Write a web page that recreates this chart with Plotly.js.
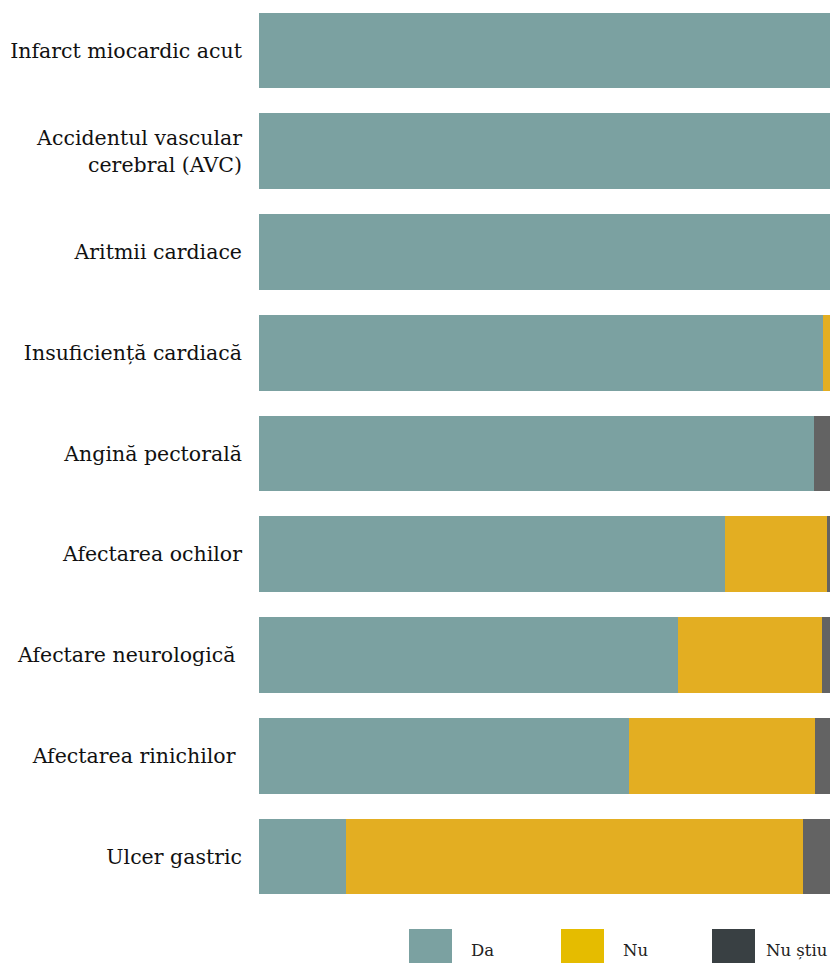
<!DOCTYPE html>
<html>
<head>
<meta charset="utf-8">
<script src="https://cdn.plot.ly/plotly-3.0.1.min.js"></script>
<style>html,body{margin:0;padding:0;background:#fff;}#chart{width:830px;height:963px;}</style>
</head>
<body>
<div id="chart"></div>
<script>
const categories = [
  "Infarct miocardic acut",
  "Accidentul vascular<br>cerebral (AVC)",
  "Aritmii cardiace",
  "Insuficiență cardiacă",
  "Angină pectorală",
  "Afectarea ochilor",
  "Afectare neurologică ",
  "Afectarea rinichilor ",
  "Ulcer gastric"
];
const seriesNames = ["Da", "Nu", "Nu știu"];
const da     = [100, 100, 100, 98.8, 97.2, 81.6, 73.4, 64.8, 15.2];
const nu     = [0, 0, 0, 1.2, 0, 17.9, 25.2, 32.6, 80.1];
const nuStiu = [0, 0, 0, 0, 2.8, 0.5, 1.4, 2.6, 4.7];
const barColors = ["#7BA1A1", "#E3AE22", "#636363"];
const legendColors = ["#7BA1A1", "#E5BC00", "#394043"];

const values = [da, nu, nuStiu];
const traces = values.map((v, i) => ({
  type: "bar",
  orientation: "h",
  y: categories,
  x: v,
  name: seriesNames[i],
  marker: { color: barColors[i] },
  showlegend: false,
  hoverinfo: "x+name"
}));

// legend geometry (pixels)
const plotL = 259, plotW = 571, plotH = 907;
const px = p => (p - plotL) / plotW;
const py = p => (plotH - p) / plotH;
const boxX = [409, 561, 712];
const textX = [469, 621, 764];
const shapes = [], annotations = [];
seriesNames.forEach((n, i) => {
  shapes.push({
    type: "rect", xref: "paper", yref: "paper",
    x0: px(boxX[i]), x1: px(boxX[i] + 43), y0: py(929), y1: py(965),
    fillcolor: legendColors[i], line: { width: 0 }
  });
  annotations.push({
    xref: "paper", yref: "paper", x: px(textX[i]), y: py(951),
    xanchor: "left", yanchor: "middle", showarrow: false, text: n,
    font: { family: "DejaVu Serif, serif", size: 16.5, color: "#222" }
  });
});

const layout = {
  width: 830, height: 963,
  margin: { l: 259, r: 0, t: 0, b: 56, pad: 0 },
  barmode: "stack",
  bargap: 0.25,
  paper_bgcolor: "#fff",
  plot_bgcolor: "#fff",
  showlegend: false,
  xaxis: { range: [0, 100], visible: false, fixedrange: true },
  yaxis: {
    autorange: "reversed",
    showgrid: false, zeroline: false, showline: false,
    ticks: "", ticklabelstandoff: 16,
    tickfont: { family: "DejaVu Serif, serif", size: 20.5, color: "#111" }
  },
  shapes: shapes,
  annotations: annotations
};

Plotly.newPlot("chart", traces, layout, { displayModeBar: false, staticPlot: true });
</script>
</body>
</html>
